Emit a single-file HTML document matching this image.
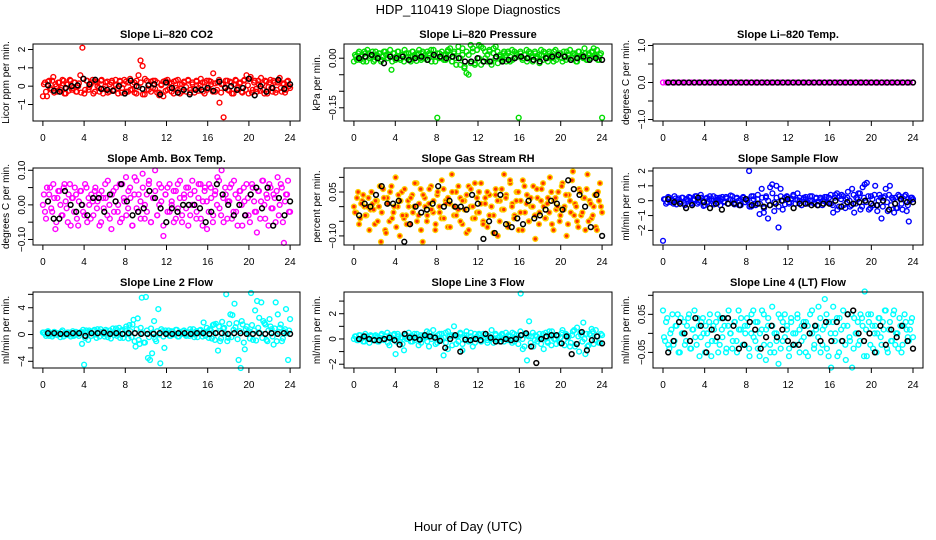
<!DOCTYPE html>
<html><head><meta charset="utf-8"><style>
html,body{margin:0;padding:0;background:#fff}
svg{display:block;font-family:"Liberation Sans",Arial,sans-serif}
</style></head><body>
<svg id="chart" width="936" height="540" viewBox="0 0 936 540" xmlns="http://www.w3.org/2000/svg">
<text x="468" y="14" text-anchor="middle" font-size="13">HDP_110419  Slope Diagnostics</text>
<text x="468" y="531" text-anchor="middle" font-size="13">Hour of Day (UTC)</text>
</svg>
<script>
const xTicks=[0,4,8,12,16,20,24];
const co2Red=[-0.55,0.2,-0.55,0.3,-0.2,0.5,0.1,-0.3,0.2,-0.1,0.3,-0.4,0.1,0.35,-0.2,0.2,-0.3,0.0,0.6,2.1,-0.4,0.3,-0.2,0.1,0.35,-0.3,0.2,-0.1,0.3,-0.4,0.0,0.25,-0.3,0.2,-0.2,0.35,-0.1,0.3,-0.35,0.1,0.25,-0.3,0.4,-0.2,0.2,-0.4,0.6,1.4,1.1,-0.45,0.3,-0.2,0.25,-0.1,0.3,-0.35,-0.5,0.1,-0.55,0.3,-0.2,0.2,-0.3,0.25,-0.1,0.35,-0.4,0.1,0.2,-0.3,0.3,-0.2,0.1,-0.35,0.25,-0.1,0.4,-0.3,0.2,-0.2,0.3,0.1,0.7,-0.3,0.2,-0.9,0.1,-1.7,0.3,-0.2,0.25,-0.4,0.1,0.3,-0.2,0.2,-0.35,0.35,0.6,-0.4,0.5,-0.2,0.3,-0.3,0.1,0.45,-0.2,0.3,-0.4,0.2,-0.1,0.3,-0.35,0.2,0.45,-0.3,0.1,-0.2,0.3,-0.1];
const co2Red2=[0.1,-0.3,0.25,-0.1,0.3,-0.35,0.0,0.2,-0.2,0.35,-0.4,0.1,-0.25,0.3,-0.1,0.2,-0.3,0.15,-0.35,0.4,-0.2,0.3,-0.05,0.2,-0.4,0.25,0.0,-0.3,0.35,-0.15,0.2,-0.35,0.1,0.3,-0.25,0.05,-0.4,0.25,-0.1,0.35,-0.3,0.2,-0.2,0.1,-0.35,0.3,-0.05,0.2,-0.45,0.4,-0.2,0.1,-0.3,0.3,-0.15,0.2,-0.35,0.05,0.25,-0.25,0.35,-0.1,0.15,-0.4,0.3,-0.2,0.1,-0.3,0.25,-0.05,0.35,-0.35,0.2,-0.15,0.3,-0.25,0.05,0.2,-0.4,0.3,-0.1,0.25,-0.3,0.15,-0.2,0.35,-0.35,0.1,-0.05,0.3,-0.25,0.2,-0.4,0.35,-0.1,0.15,-0.3,0.3,-0.2,0.05,0.4,-0.35,0.2,-0.15,0.3,-0.25,0.1,-0.4,0.25,-0.05,0.35,-0.3,0.2,-0.2,0.3,-0.1,0.15,-0.35,0.25,0.0];
const co2Black=[0.05,-0.25,-0.3,-0.1,0.0,0.05,0.4,0.1,0.35,-0.15,-0.2,-0.25,0.0,-0.4,0.3,0.0,-0.15,0.05,0.1,-0.45,0.2,-0.1,-0.35,-0.2,-0.45,-0.2,-0.2,-0.1,-0.25,0.25,-0.1,0.0,-0.2,-0.1,0.4,-0.5,0.0,-0.3,-0.1,0.35,-0.15,0.1];
const presGreen=[-0.01,0.005,0.015,-0.005,0.01,0.02,-0.01,0.015,0.005,0.02,-0.005,0.01,0.015,-0.01,0.005,0.02,0.0,0.01,-0.035,0.015,-0.005,0.02,0.0,0.01,-0.01,0.015,0.005,-0.005,0.02,0.01,-0.008,0.015,0.0,0.02,0.01,-0.005,0.015,0.025,0.005,-0.01,-0.18,0.015,0.0,0.01,-0.005,0.02,0.01,-0.01,0.015,0.0,0.02,-0.02,0.01,-0.03,-0.045,-0.05,0.04,0.02,-0.015,0.025,0.04,-0.02,0.03,0.0,-0.01,0.02,-0.02,0.03,0.035,-0.015,0.01,0.0,0.02,-0.01,0.015,0.005,-0.005,0.02,0.01,-0.18,0.015,0.0,0.01,-0.01,0.02,0.005,-0.005,0.015,0.0,-0.015,0.01,0.02,0.005,-0.01,0.015,0.0,0.02,-0.005,0.01,0.015,-0.01,0.005,0.02,0.0,-0.005,0.015,0.01,-0.01,0.02,0.005,0.0,0.015,-0.005,0.01,0.02,0.03,0.005,-0.005,0.01,-0.18];
const presGreen2=[0.01,-0.005,0.02,0.005,-0.01,0.015,0.025,0.0,0.01,-0.01,0.02,0.005,0.015,-0.005,0.02,0.01,0.0,0.025,-0.01,0.015,0.005,0.02,-0.005,0.01,0.025,0.0,0.015,-0.01,0.02,0.005,0.01,0.025,-0.005,0.015,0.0,0.02,0.01,-0.01,0.025,0.005,0.015,0.0,0.02,-0.005,0.01,0.025,0.03,-0.01,0.02,-0.02,0.035,0.0,0.03,-0.025,0.02,0.01,-0.015,0.03,-0.02,0.025,0.0,0.035,-0.01,0.02,0.01,0.025,-0.01,0.015,0.0,0.02,0.005,-0.005,0.015,0.01,0.02,-0.01,0.025,0.0,0.015,0.005,0.02,-0.005,0.01,0.025,0.0,0.015,-0.01,0.02,0.005,0.01,0.025,-0.005,0.015,0.0,0.02,0.01,-0.01,0.025,0.005,0.015,0.0,0.02,-0.005,0.01,0.025,0.0,0.015,-0.01,0.02,0.005,0.01,0.03,-0.005,0.015,0.0,0.02,0.01,0.025,-0.005,0.015];
const presBlack=[0.0,0.005,0.01,0.0,-0.015,0.005,0.0,0.005,-0.005,0.0,0.005,-0.005,0.01,0.005,0.0,0.005,0.0,-0.01,-0.01,0.0,-0.01,-0.01,0.005,-0.01,-0.005,0.0,0.005,0.0,-0.005,-0.01,0.0,0.005,0.01,0.005,-0.005,0.0,0.005,-0.005,0.0,-0.005];
const tempMagenta=[0,0,0,0,0,0,0,0,0,0,0,0,0,0,0,0,0,0,0,0,0,0,0,0,0,0,0,0,0,0,0,0,0,0,0,0,0,0,0,0,0,0,0,0,0,0,0,0,0,0,0,0,0,0,0,0,0,0,0,0,0,0,0,0,0,0,0,0,0,0,0,0,0,0,0,0,0,0,0,0];
const tempBlack=[0,0,0,0,0,0,0,0,0,0,0,0,0,0,0,0,0,0,0,0,0,0,0,0,0,0,0,0,0,0,0,0,0,0,0,0,0,0,0,0,0,0,0,0,0,0,0,0];
const ambMagenta=[0.0,-0.02,0.05,0.03,-0.01,0.06,-0.07,0.02,0.04,-0.03,0.05,0.01,-0.05,0.06,0.02,-0.02,0.03,-0.06,0.04,0.0,-0.03,0.05,0.02,-0.04,0.01,0.04,-0.01,0.03,-0.05,0.02,0.06,-0.03,0.0,-0.07,0.04,0.01,-0.02,0.06,-0.04,0.02,0.08,-0.01,0.05,-0.06,0.03,0.07,-0.02,0.01,0.09,-0.04,0.03,0.06,-0.05,0.02,0.1,-0.03,0.0,0.05,-0.09,0.03,-0.02,0.06,0.01,-0.05,0.04,-0.01,0.07,-0.03,0.02,0.05,-0.06,0.03,0.0,0.04,-0.02,0.06,-0.04,0.01,0.05,-0.07,0.06,0.02,-0.03,0.04,0.08,-0.01,0.1,-0.05,0.03,0.01,0.05,-0.04,0.07,-0.02,0.02,0.04,-0.06,0.01,0.06,-0.03,0.03,0.05,-0.02,-0.08,0.04,0.01,0.07,-0.04,0.02,0.06,-0.01,0.03,-0.05,0.08,0.0,0.05,-0.11,0.03,0.07,-0.02];
const ambMagenta2=[0.03,-0.04,0.01,0.05,-0.02,0.02,-0.05,0.04,0.0,-0.03,0.06,-0.01,0.03,-0.06,0.02,0.05,-0.04,0.01,0.04,-0.02,0.06,-0.05,0.0,0.03,-0.03,0.05,0.01,-0.06,0.04,-0.01,0.02,0.07,-0.04,0.03,-0.02,0.05,0.0,-0.05,0.06,0.01,-0.03,0.04,0.02,-0.06,0.08,-0.01,0.03,-0.04,0.05,0.0,-0.02,0.07,-0.05,0.02,0.04,-0.03,0.06,0.01,-0.06,0.03,0.05,-0.02,0.0,0.04,-0.04,0.06,0.02,-0.05,0.03,-0.01,0.05,-0.03,0.07,0.0,-0.04,0.02,0.06,-0.06,0.04,0.01,-0.02,0.05,-0.05,0.03,0.0,0.07,-0.03,0.02,0.05,-0.04,0.01,0.06,-0.02,0.03,-0.06,0.04,0.0,0.05,-0.03,0.02,-0.05,0.06,0.01,-0.02,0.04,-0.04,0.07,0.0,0.03,-0.06,0.05,-0.01,0.02,0.04,-0.03,0.06,-0.05,0.01,0.03,-0.02];
const ambBlack=[0.01,-0.04,-0.04,0.04,0.0,-0.02,0.0,-0.03,0.02,0.02,-0.02,0.03,0.01,0.06,0.01,-0.03,-0.02,-0.01,0.04,0.02,-0.01,-0.05,-0.01,-0.02,0.0,0.0,0.0,-0.01,-0.05,-0.02,0.06,0.03,0.0,-0.03,0.0,-0.03,0.03,0.05,-0.01,0.05,-0.06,0.02,-0.03,0.01];
const rhYellow=[0.0,-0.02,0.05,-0.04,0.02,0.0,-0.03,0.03,-0.01,0.01,-0.06,0.02,0.0,-0.12,0.06,-0.08,0.03,-0.05,0.07,-0.02,0.1,0.0,-0.1,0.05,-0.04,-0.03,0.02,-0.06,0.04,0.0,0.08,-0.03,0.06,-0.12,0.03,-0.05,0.01,0.07,-0.02,-0.08,0.04,0.0,-0.04,0.06,0.02,-0.07,0.01,0.11,-0.03,0.05,-0.01,0.03,-0.06,0.02,-0.09,0.07,0.0,-0.04,0.08,-0.02,0.05,0.01,-0.05,0.03,-0.07,0.04,0.0,-0.03,0.06,-0.1,0.02,-0.01,0.11,0.04,-0.06,0.08,0.01,-0.03,0.05,-0.08,0.02,0.09,-0.02,0.04,-0.05,0.0,0.07,-0.11,0.03,-0.02,0.06,0.0,-0.04,0.03,0.1,-0.06,0.02,-0.01,0.05,-0.03,0.08,0.0,-0.1,0.04,-0.02,0.12,0.01,-0.05,0.06,-0.03,0.03,-0.08,0.11,0.02,-0.04,0.0,-0.07,0.05,0.08,-0.02];
const rhYellow2=[-0.02,0.03,-0.06,0.01,0.04,-0.03,0.0,-0.08,0.05,-0.01,0.02,-0.05,0.07,-0.02,0.03,-0.09,0.01,0.05,-0.04,0.0,-0.07,0.04,0.02,-0.03,0.06,-0.06,0.0,0.03,-0.02,0.08,-0.05,0.01,-0.08,0.04,0.0,-0.03,0.06,-0.01,0.02,-0.06,0.05,-0.02,0.09,-0.04,0.01,0.03,-0.07,0.05,0.0,-0.03,0.07,-0.05,0.02,-0.01,0.04,-0.08,0.06,0.0,-0.04,0.03,-0.02,0.08,-0.06,0.01,0.05,-0.03,0.0,-0.09,0.04,0.02,-0.05,0.06,-0.01,0.03,-0.07,0.09,0.0,-0.04,0.02,0.05,-0.02,-0.08,0.07,0.01,-0.05,0.03,0.0,-0.03,0.06,-0.06,0.02,0.08,-0.04,0.01,-0.02,0.05,-0.08,0.03,0.0,-0.05,0.07,-0.01,0.04,-0.06,0.02,0.09,-0.03,0.0,-0.07,0.05,-0.02,0.03,0.06,-0.05,0.01,-0.03,0.04,-0.08,0.02,0.0];
const rhBlack=[-0.03,0.01,0.0,0.04,0.07,0.01,0.01,0.02,-0.12,-0.06,0.0,-0.02,-0.01,0.01,0.07,0.0,0.02,0.0,0.0,-0.01,0.04,0.01,-0.11,-0.05,-0.09,0.04,-0.06,-0.07,-0.04,-0.06,0.02,-0.04,-0.03,-0.01,0.02,0.01,-0.01,0.09,0.06,0.04,0.0,-0.07,0.04,-0.1];
const flowBlue=[-2.7,0.1,-0.1,0.2,0.0,-0.2,0.15,0.05,-0.1,0.2,-0.15,0.1,0.0,0.2,-0.2,0.1,0.3,-0.1,0.4,0.0,-0.3,0.2,0.1,-0.2,0.3,0.0,-0.15,0.2,0.1,-0.1,0.25,-0.2,0.1,0.3,-0.25,0.15,0.0,-0.3,0.2,-0.1,0.1,2.0,-0.4,0.3,-0.2,0.1,-0.9,0.8,-0.8,0.2,-1.2,0.9,1.1,-0.7,1.0,-1.8,0.8,-0.6,0.2,0.3,-0.2,0.1,0.4,-0.2,0.5,0.0,-0.3,0.2,0.1,-0.2,0.3,0.0,-0.1,0.2,-0.3,0.1,0.0,0.25,-0.1,0.2,-0.2,-0.8,0.4,-0.6,0.3,0.4,-0.3,0.1,0.6,-0.4,0.8,-0.8,0.2,0.5,-0.6,0.9,1.1,1.2,-0.6,0.3,-0.3,1.0,-0.7,0.4,-1.2,0.2,0.8,-0.7,1.0,0.2,-0.8,-0.5,0.4,0.1,-0.6,0.3,-0.7,-1.4,0.2,0.1];
const flowBlue2=[0.1,-0.2,0.25,-0.1,0.0,0.3,-0.25,0.15,-0.05,0.2,-0.3,0.1,0.25,-0.15,0.05,0.3,-0.2,0.0,0.2,-0.35,0.15,-0.1,0.3,0.0,-0.25,0.2,0.1,-0.3,0.25,-0.05,0.15,-0.2,0.35,0.0,-0.15,0.2,-0.3,0.1,0.25,-0.1,0.0,-0.4,0.3,0.1,-0.3,0.4,-0.2,0.2,-0.5,0.3,0.0,-0.3,0.5,-0.1,0.2,-0.4,0.3,0.0,-0.25,0.25,-0.1,0.15,0.3,-0.2,0.05,0.2,-0.3,0.1,0.25,-0.15,0.0,0.3,-0.2,0.15,-0.05,0.2,-0.3,0.1,0.25,-0.15,0.4,-0.3,0.2,0.5,-0.4,0.1,0.3,-0.5,0.2,0.0,-0.3,0.4,-0.2,0.1,0.5,-0.4,0.2,-0.1,0.3,-0.5,0.1,0.4,-0.3,0.0,0.2,-0.4,0.3,-0.1,0.4,-0.3,0.1,0.2,-0.5,0.3,-0.2,0.1,0.4,-0.3,0.0,0.2];
const flowBlack=[0.1,-0.1,-0.2,-0.5,-0.3,0.2,-0.1,-0.5,-0.2,-0.6,-0.2,-0.2,-0.3,0.1,-0.3,-0.2,-0.4,-0.3,-0.2,0.0,0.1,-0.5,-0.2,-0.2,-0.3,-0.3,-0.2,-0.2,0.0,-0.4,-0.1,-0.2,-0.1,0.0,-0.2,-0.3,0.0,-0.6,-0.2,0.1,-0.1,-0.1];
const line2Cyan=[0.3,0.1,0.4,-0.2,0.2,0.0,0.3,-0.1,0.2,0.4,-0.3,0.1,0.3,0.0,0.2,-0.2,0.4,0.1,0.3,-1.4,-4.5,0.6,-0.8,0.4,0.2,0.7,-0.5,0.3,0.8,0.1,-0.3,0.5,0.2,-0.6,0.9,0.3,-0.2,1.0,0.6,-0.5,0.8,0.2,1.4,-0.4,2.2,-1.8,2.4,-1.4,5.5,-1.2,5.6,-3.5,-3.8,-2.8,2.0,-1.0,3.8,-4.3,0.5,-2.0,0.3,0.6,-0.2,0.4,0.1,0.7,-0.3,0.2,0.5,0.0,0.3,-0.2,0.4,0.8,0.1,-0.4,0.6,0.2,1.8,-0.2,0.5,0.8,-0.6,1.5,1.6,-2.4,-1.0,1.9,1.0,6.0,-0.5,3.0,2.9,4.6,1.7,-3.8,-5.0,1.5,-2.2,1.2,0.5,6.2,-0.8,3.6,5.0,2.5,4.8,2.0,1.5,-1.0,2.3,0.8,-1.5,4.8,3.0,1.0,-1.0,0.5,3.8,-3.8,2.3];
const line2Cyan2=[0.3,-0.2,0.5,0.1,-0.3,0.4,0.0,0.2,-0.4,0.6,0.1,-0.1,0.3,-0.3,0.5,0.0,0.2,-0.2,0.4,0.7,-0.5,0.3,0.6,-0.2,0.5,0.0,0.8,-0.3,0.4,0.1,0.7,-0.4,0.6,0.2,-0.1,0.9,0.3,-0.5,0.7,0.1,1.2,-0.6,0.5,1.5,-1.0,0.8,-0.8,1.0,0.2,-1.2,0.6,-0.4,0.9,0.3,-0.7,0.5,0.0,0.8,-0.3,0.6,0.2,-0.2,0.5,0.0,0.7,-0.3,0.4,0.1,0.6,-0.2,0.3,0.8,0.0,-0.4,0.5,0.2,0.7,-0.3,0.4,1.0,-0.5,0.6,1.4,-0.8,0.3,1.2,-0.6,0.9,0.2,-1.0,1.6,-0.4,0.7,1.1,-0.7,0.5,2.0,-1.2,0.8,0.3,-0.6,1.4,0.6,-0.9,1.0,0.2,-0.5,1.7,-0.8,0.6,1.2,-0.3,0.9,-1.0,0.4,1.5,-0.6,0.8,0.2,0.6];
const line2Black=[0.2,0.2,0.1,0.1,0.2,0.2,-0.2,0.2,0.2,0.3,0.1,0.2,0.1,0.2,0.2,0.1,0.1,0.1,0.2,0.1,0.1,0.2,0.2,0.1,0.2,0.2,0.1,0.2,0.2,0.1,0.2,0.2,0.1,0.1,0.2,0.1,0.2,0.1,0.2,0.1];
const line3Cyan=[0.0,0.2,-0.1,0.3,0.1,-0.2,0.2,0.0,0.3,-0.1,0.2,0.1,-0.2,0.3,0.0,0.2,0.5,-0.5,0.1,0.3,-1.2,0.4,-0.2,0.1,-0.9,0.3,0.0,0.2,-0.2,0.4,0.1,-0.5,0.3,0.0,0.2,0.6,-0.6,0.2,0.7,0.1,-0.3,0.4,0.0,-1.3,0.5,-0.8,0.2,0.3,1.0,-0.4,0.2,0.5,-0.9,0.3,0.6,-0.2,0.2,-0.6,0.4,0.0,0.3,-0.2,0.4,0.1,-0.3,0.2,0.7,0.0,0.3,-0.1,0.2,0.4,-0.2,0.1,0.3,0.0,0.5,-0.2,0.3,0.1,3.6,-0.8,0.4,-1.7,1.4,0.2,-0.6,0.3,-0.2,0.4,0.1,-0.8,0.5,-0.3,0.2,0.6,0.0,-0.4,0.3,0.1,0.7,-0.5,0.3,0.2,-0.3,0.6,-0.6,0.9,-1.0,0.3,1.3,-1.2,-0.6,0.4,0.8,-0.4,0.7,0.2,-0.3,0.3];
const line3Cyan2=[0.2,-0.1,0.3,0.0,-0.2,0.4,0.1,-0.3,0.2,0.0,0.3,-0.2,0.1,0.4,-0.1,0.2,-0.3,0.3,0.0,0.4,-0.2,0.2,0.1,-0.4,0.3,0.0,0.5,-0.2,0.2,-0.1,0.4,0.0,-0.3,0.3,0.1,-0.2,0.5,0.0,0.2,-0.4,0.3,-0.1,0.4,0.1,-0.3,0.6,0.0,-0.5,0.3,0.2,-0.2,0.4,-0.4,0.1,0.3,-0.1,0.5,0.0,-0.3,0.2,0.4,-0.2,0.1,0.3,-0.1,0.2,0.0,-0.3,0.4,0.1,-0.2,0.3,0.0,0.5,-0.1,0.2,-0.3,0.4,0.1,-0.4,0.6,0.0,-0.6,0.3,0.2,-0.3,0.5,-0.1,0.2,0.0,-0.4,0.4,0.1,-0.2,0.6,-0.5,0.3,0.0,0.2,-0.3,0.5,-0.1,0.4,0.1,-0.6,0.3,0.7,-0.4,0.2,0.5,-0.2,0.0,0.4,-0.5,0.3,0.6,-0.1,0.2,-0.3,0.4];
const line3Black=[0.0,0.2,0.0,-0.1,-0.1,0.0,0.1,-0.1,-0.45,0.4,0.1,0.1,-0.05,0.3,0.2,0.1,-0.15,-0.7,0.0,0.3,-1.0,-0.05,-0.1,0.0,-0.1,0.4,0.1,-0.2,-0.2,0.0,-0.1,0.0,0.3,0.45,-0.6,-1.9,0.0,0.2,0.3,0.3,-0.35,0.2,-1.2,-0.4,0.55,-0.9,-0.1,0.2,-0.35];
const line4Cyan=[0.06,-0.02,0.04,-0.04,0.01,-0.03,0.02,0.05,-0.05,0.0,0.03,-0.02,0.04,-0.04,0.01,0.06,-0.03,0.02,-0.01,0.04,-0.05,0.0,0.03,-0.06,0.02,-0.02,0.05,-0.03,0.01,0.04,-0.05,0.02,0.0,-0.04,0.03,-0.02,0.06,0.01,-0.03,0.02,0.04,-0.04,0.0,0.06,-0.02,0.03,-0.06,0.01,0.05,-0.07,0.02,-0.03,0.07,-0.05,0.0,-0.08,0.04,-0.02,0.05,0.01,-0.04,0.03,-0.03,0.0,0.04,-0.05,0.02,-0.01,0.03,-0.06,0.05,0.0,-0.03,0.02,0.07,-0.05,0.01,0.09,-0.04,0.03,-0.09,0.07,0.0,-0.06,0.04,-0.02,0.02,-0.07,0.05,-0.02,-0.09,0.04,0.0,-0.03,0.05,0.02,0.11,-0.06,0.03,0.05,-0.04,0.02,0.0,0.04,-0.03,0.01,0.06,-0.05,0.03,-0.02,0.06,0.0,-0.04,0.02,-0.03,0.05,0.01,-0.02,0.03,-0.01];
const line4Cyan2=[-0.01,0.03,-0.03,0.0,0.05,-0.02,0.02,-0.05,0.04,0.0,-0.03,0.02,0.05,-0.04,0.01,-0.01,0.04,-0.06,0.03,0.0,0.02,-0.03,0.05,-0.02,0.01,0.03,-0.05,0.04,-0.01,0.02,-0.04,0.06,0.0,-0.02,0.03,-0.05,0.01,0.04,-0.03,0.0,0.02,-0.06,0.05,-0.01,0.03,-0.04,0.0,0.06,-0.03,0.01,0.04,-0.05,0.02,0.0,-0.02,0.05,-0.04,0.03,-0.01,0.02,-0.06,0.04,0.0,-0.03,0.05,0.01,-0.02,0.03,-0.05,0.02,0.0,0.06,-0.04,0.01,-0.01,0.04,-0.03,0.02,0.05,-0.06,0.0,0.03,-0.02,0.04,-0.05,0.01,0.06,-0.03,0.02,-0.01,0.05,-0.04,0.0,0.03,-0.02,0.04,-0.06,0.01,0.05,-0.03,0.02,0.0,-0.05,0.04,-0.01,0.03,0.06,-0.04,0.01,-0.02,0.05,-0.03,0.0,0.04,-0.05,0.02,0.03,-0.01,0.01,0.04];
const line4Black=[-0.05,-0.02,0.03,0.0,-0.02,0.04,0.02,-0.05,0.01,-0.01,0.04,0.04,0.02,-0.04,-0.03,0.03,0.01,-0.04,-0.01,0.02,-0.01,0.01,-0.02,-0.03,-0.03,0.02,0.0,0.02,-0.02,0.03,-0.02,0.03,-0.02,0.05,0.06,0.0,-0.02,0.0,-0.05,0.02,-0.03,0.01,-0.01,0.02,-0.02,-0.04];

const colL=[33,344,653], colR=[300,612,923], rowT=[44,168,292], rowB=[121,245,368];
const panels=[
 {name:'co2',title:'Slope Li\u2013820 CO2',ylab:'Licor ppm per min.',yr:[-1.9,2.3],ticks:[-1,0,1,2],labels:['\u22121','0','1','2'],col:'#ff0000',c:[co2Red,co2Red2],b:co2Black},
 {name:'pressure',title:'Slope Li\u2013820 Pressure',ylab:'kPa per min.',yr:[-0.19,0.043],ticks:[-0.15,-0.10,-0.05,0],labels:['\u22120.15','','','0.00'],col:'#00dd00',c:[presGreen,presGreen2],b:presBlack},
 {name:'temp',title:'Slope Li\u2013820 Temp.',ylab:'degrees C per min.',yr:[-1.04,1.04],ticks:[-1,-0.5,0,0.5,1],labels:['\u22121.0','','0.0','','1.0'],col:'#ff00ff',c:[tempMagenta],b:tempBlack},
 {name:'amb-box-temp',title:'Slope Amb. Box Temp.',ylab:'degrees C per min.',yr:[-0.116,0.1066],ticks:[-0.1,-0.05,0,0.05,0.1],labels:['\u22120.10','','0.00','','0.10'],col:'#ff00ff',c:[ambMagenta,ambMagenta2],b:ambBlack},
 {name:'gas-stream-rh',title:'Slope Gas Stream RH',ylab:'percent per min.',yr:[-0.131,0.132],ticks:[-0.1,-0.05,0,0.05,0.1],labels:['\u22120.10','','','0.05',''],col:'#ffd000',inner:'#ff3000',c:[rhYellow,rhYellow2],b:rhBlack},
 {name:'sample-flow',title:'Slope Sample Flow',ylab:'ml/min per min.',yr:[-2.98,2.2],ticks:[-2,-1,0,1,2],labels:['\u22122','\u22121','0','1','2'],col:'#0000ff',c:[flowBlue,flowBlue2],b:flowBlack},
 {name:'line2-flow',title:'Slope Line 2 Flow',ylab:'ml/min per min.',yr:[-5.0,6.35],ticks:[-4,-2,0,2,4,6],labels:['\u22124','','0','','4',''],col:'#00ffff',c:[line2Cyan,line2Cyan2],b:line2Black},
 {name:'line3-flow',title:'Slope Line 3 Flow',ylab:'ml/min per min.',yr:[-2.3,3.72],ticks:[-2,-1,0,1,2,3],labels:['\u22122','','0','','2',''],col:'#00ffff',c:[line3Cyan,line3Cyan2],b:line3Black},
 {name:'line4-flow',title:'Slope Line 4 (LT) Flow',ylab:'ml/min per min.',yr:[-0.091,0.1087],ticks:[-0.05,0,0.05,0.1],labels:['\u22120.05','','0.05',''],col:'#00ffff',c:[line4Cyan,line4Cyan2],b:line4Black}
];
const NS='http://www.w3.org/2000/svg';
const svg=document.getElementById('chart');
function mk(tag,attrs,parent){const e=document.createElementNS(NS,tag);for(const k in attrs)e.setAttribute(k,attrs[k]);parent.appendChild(e);return e;}
panels.forEach((p,idx)=>{
 const L=colL[idx%3],R=colR[idx%3],T=rowT[Math.floor(idx/3)],B=rowB[Math.floor(idx/3)];
 const xs=h=>L+(h+0.96)/25.92*(R-L);
 const ys=v=>B-(v-p.yr[0])/(p.yr[1]-p.yr[0])*(B-T);
 const g=mk('g',{},svg);
 
 
 const t=mk('text',{x:(L+R)/2,y:T-6,'text-anchor':'middle','font-size':'11','font-weight':'bold'},g);
 
 
 t.textContent=p.title;
 const yl=mk('text',{x:0,y:0,'text-anchor':'middle','font-size':'10',transform:`translate(${L-24},${(T+B)/2}) rotate(-90)`},g);
 
 
 yl.textContent=p.ylab;
 const pts=mk('g',{fill:'none'},g);
 
 
 p.c.forEach((arr,k)=>{
  arr.forEach((v,i)=>{
   const h=k===0?i*24/(arr.length-1):(i+0.5)*24/arr.length;
   const c=mk('circle',{cx:xs(h).toFixed(1),cy:ys(v).toFixed(1),r:2.4,stroke:p.col,'stroke-width':1.4,fill:p.inner?p.inner:'none'},pts);
   
   
  });
 });
 const bp=mk('g',{fill:'none'},g);
 
 
 p.b.forEach((v,i)=>{
  const h=0.5+i*23.5/(p.b.length-1);
  const c=mk('circle',{cx:xs(h).toFixed(1),cy:ys(v).toFixed(1),r:2.4,stroke:'#000','stroke-width':1.5},bp);
  
  
 });
 const box=mk('rect',{x:L,y:T,width:R-L,height:B-T,fill:'none',stroke:'#000','stroke-width':1},g);
 
 
 const xa=mk('g',{},g);
 
 
 mk('line',{x1:xs(0),x2:xs(24),y1:B,y2:B,stroke:'#000'},xa);
 xTicks.forEach(h=>{
  mk('line',{x1:xs(h),x2:xs(h),y1:B,y2:B+5,stroke:'#000'},xa);
  const tl=mk('text',{x:xs(h),y:B+20,'text-anchor':'middle','font-size':'10'},xa);
  
  
  tl.textContent=h;
 });
 const ya=mk('g',{},g);
 
 
 mk('line',{x1:L,x2:L,y1:ys(p.ticks[0]),y2:ys(p.ticks[p.ticks.length-1]),stroke:'#000'},ya);
 p.ticks.forEach((v,i)=>{
  mk('line',{x1:L-5,x2:L,y1:ys(v),y2:ys(v),stroke:'#000'},ya);
  if(p.labels[i]){
   const tl=mk('text',{x:0,y:0,'text-anchor':'middle','font-size':'10',transform:`translate(${L-8},${ys(v)}) rotate(-90)`},ya);
   
   
   tl.textContent=p.labels[i];
  }
 });
});
</script>
</body></html>
